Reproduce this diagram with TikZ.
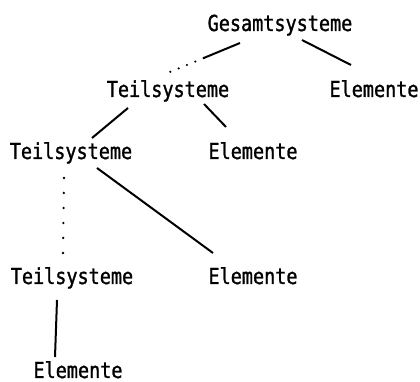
\documentclass[tikz,border=0pt]{standalone}
\usepackage{fontspec}
\newfontfamily\typefont[FakeStretch=0.84,FakeBold=1.2]{DejaVu Sans Mono}
\usetikzlibrary{calc}

\begin{document}
\begin{tikzpicture}[x=1pt,y=1pt,
		lbl/.style={inner sep=0pt,anchor=base,
			font=\typefont\fontsize{22}{24}\selectfont},
		edge/.style={draw=black,line width=2pt},
		fade/.style={draw=black,line width=2.4pt,line cap=round,
			dash pattern=on 0pt off 9pt},
		skip/.style={draw=black,line width=2.6pt,line cap=round,
			dash pattern=on 0pt off 15pt}]

	\useasboundingbox (0,0) rectangle (420,382);

	%%%%%%%%%%%%%%%%  labels  %%%%%%%%%%%%%%%%
	\node[lbl] (gs)  at (280,351) {Gesamtsysteme};
	\node[lbl] (ts1) at (168,285) {Teilsysteme};
	\node[lbl] (el1) at (374,285) {Elemente};
	\node[lbl] (ts2) at (71,223)  {Teilsysteme};
	\node[lbl] (el2) at (253,223) {Elemente};
	\node[lbl] (ts3) at (72,98)   {Teilsysteme};
	\node[lbl] (el3) at (253,98)  {Elemente};
	\node[lbl] (el4) at (78,4)    {Elemente};

	%%%%%%%%%%%%%%%%  branches  %%%%%%%%%%%%%%%%
	% top branch runs out into dots
	\coordinate (gsA) at ([shift={(-40,-12)}]gs.base);
	\coordinate (tsA) at ([shift={(2,25)}]ts1.base);
	\coordinate (gsM) at ($(gsA)!0.52!(tsA)$);
	\draw[edge] (gsA) -- (gsM);
	\draw[fade] (gsM) -- (tsA);
	\draw[edge] ([shift={(22,-9)}]gs.base) -- ([shift={(-23,32)}]el1.base);

	\draw[edge] ([shift={(-40,-11)}]ts1.base) -- ([shift={(21,21)}]ts2.base);
	\draw[edge] ([shift={(36,-7)}]ts1.base) -- ([shift={(-27,32)}]el2.base);

	\draw[edge] ([shift={(26,-9)}]ts2.base) -- ([shift={(-40,31)}]el3.base);
	% omitted levels in between
	\draw[skip] ([shift={(-7,-19)}]ts2.base) -- ([shift={(-9,31)}]ts3.base);

	\draw[edge] ([shift={(-15,-16)}]ts3.base) -- ([shift={(-23,21)}]el4.base);
\end{tikzpicture}
\end{document}
